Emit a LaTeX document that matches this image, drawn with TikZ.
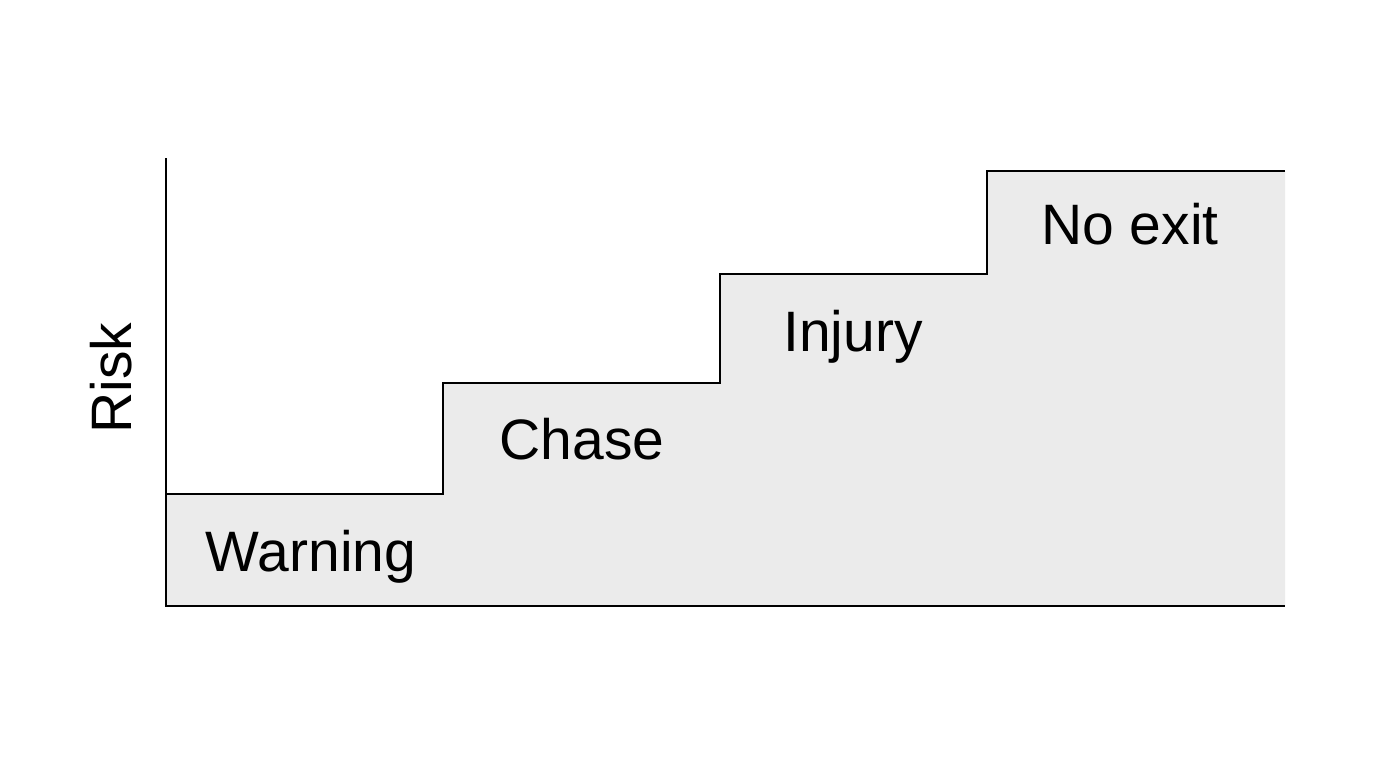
\documentclass[tikz,border=0pt]{standalone}
\usepackage{fontspec}
\setmainfont{Liberation Sans}
\begin{document}
\begin{tikzpicture}[x=1pt,y=-1pt,
  lbl/.style={font=\fontsize{57}{62}\selectfont, inner sep=0pt, anchor=base}]
\useasboundingbox[fill=white] (0,0) rectangle (1376,768);
\fill[fill={rgb,255:red,235;green,235;blue,235}] (166,494) -- (443,494) -- (443,383) -- (720,383) -- (720,274) -- (987,274) -- (987,171) -- (1285,171) -- (1285,606) -- (166,606) -- cycle;
\draw[line width=2] (166,494) -- (443,494) -- (443,383) -- (720,383) -- (720,274) -- (987,274) -- (987,171) -- (1285,171);
\draw[line width=2] (166,158) -- (166,606) -- (1285,606);
\node[lbl] (w) at (311,571) {Warning};
\node[lbl] (c) at (582,459) {Chase};
\node[lbl] (i) at (853,351) {Injury};
\node[lbl] (n) at (1130,244) {No exit};
\node[lbl, rotate=90] (r) at (131,378) {Risk};
\end{tikzpicture}
\end{document}
